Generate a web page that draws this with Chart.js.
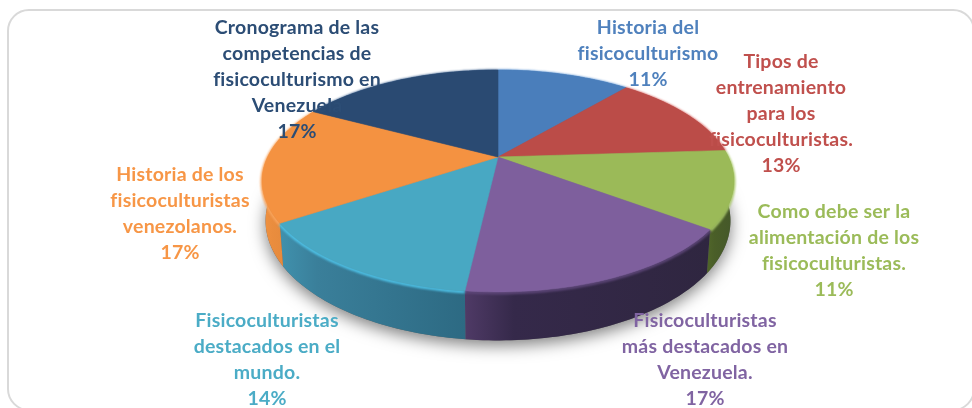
<!DOCTYPE html>
<html>
<head>
<meta charset="utf-8">
<title>Fisicoculturismo</title>
<script src="https://cdn.jsdelivr.net/npm/chart.js@4"></script>
<style>
  html, body { margin: 0; padding: 0; background: #fff; overflow: hidden; }
  #wrap { position: relative; width: 972px; height: 408px; }
  #frame {
    position: absolute; left: 7px; top: 9px; width: 968px; height: 402px;
    border: 2px solid #d9d9d9; border-radius: 22px; box-sizing: border-box;
  }
  canvas { position: absolute; left: 0; top: 0; }
</style>
</head>
<body>
<div id="wrap">
  <canvas id="pie" width="972" height="408"></canvas>
  <div id="frame"></div>
</div>
<script>
/* data */
const categories = [
  ['Historia del', 'fisicoculturismo'],
  ['Tipos de', 'entrenamiento', 'para los', 'fisicoculturistas.'],
  ['Como debe ser la', 'alimentación de los', 'fisicoculturistas.'],
  ['Fisicoculturistas', 'más destacados en', 'Venezuela.'],
  ['Fisicoculturistas', 'destacados en el', 'mundo.'],
  ['Historia de los', 'fisicoculturistas', 'venezolanos.'],
  ['Cronograma de las', 'competencias de', 'fisicoculturismo en', 'Venezuela'],
];
/* slice sizes; labels show them rounded */
const shares = [11.2, 12.8, 11.2, 16.6, 13.9, 17.1, 17.2];

/* colours */
const topColors  = ['#4a7ebb', '#bb4c48', '#9bba58', '#7e5f9d', '#48a8c3', '#f49241', '#2a4a72'];
const textColors = ['#4f81bd', '#c0504d', '#9bbb59', '#8064a2', '#4bacc6', '#f79646', '#2c4d75'];
/* wall gradient, left to right */
const wallColors = [
  ['#3b6490', '#3b6490', '#3b6490'], ['#8f3b38', '#8f3b38', '#8f3b38'], ['#4e6329', '#4a5e28', '#44572a'],
  ['#4f3a66', '#35294a', '#2f2640'], ['#4091ad', '#3a7f9a', '#2d6a83'], ['#f09242', '#ea8d3e', '#db8238'], ['#213a59', '#213a59', '#213a59'],
];
const rimColors = ['#5a92d2', '#d45b57', '#a9c968', '#5d4678', '#4fc3e8', '#f9a55e', '#3a5f8e'];

/* label centres, one per slice; first line y and line step */
const labelX = [648, 781, 834, 705, 267, 180, 297];
const labelY = [28, 62, 212, 321, 321, 175, 28];
const lineStep = 25.9;

/* tilted disc: perspective from the pie plane to the screen */
const view = { x: 498, y: 157, g: 230.4, h: 105.8, p: 0.216, depth: 38, shrink: 0.985 };

function project(theta, low) {
  const u = Math.sin(theta), v = Math.cos(theta);
  const w = 1 + view.p * v;
  const s = low ? view.shrink : 1;
  return {
    x: view.x + s * view.g * u / w,
    y: view.y - view.h * v / w + (low ? view.depth / w : 0),
  };
}

function arcPoints(a0, a1, low) {
  const n = Math.max(2, Math.ceil((a1 - a0) / 0.02));
  const pts = [];
  for (let i = 0; i <= n; i++) pts.push(project(a0 + (a1 - a0) * i / n, low));
  return pts;
}

function trace(ctx, pts) {
  pts.forEach((p, i) => (i ? ctx.lineTo(p.x, p.y) : ctx.moveTo(p.x, p.y)));
}

/* ── 3D PIE ─────────────────────────────────────────────── */
/* Takes the angles the pie controller worked out and draws them as a tilted disc */
const pie3d = {
  id: 'pie3d',
  beforeDatasetsDraw(chart) {
    const ctx = chart.ctx;
    const arcs = chart.getDatasetMeta(0).data.map(a => ({
      a0: a.startAngle + Math.PI / 2,
      a1: a.endAngle + Math.PI / 2,
    }));

    /* soft shadow under the disc */
    ctx.save();
    ctx.shadowColor = 'rgba(0,0,0,0.5)';
    ctx.shadowBlur = 16;
    ctx.shadowOffsetY = 5;
    ctx.fillStyle = '#666';
    ctx.beginPath();
    trace(ctx, arcPoints(0, Math.PI * 2, true));
    ctx.closePath();
    ctx.fill();
    ctx.restore();

    /* side walls */
    arcs.forEach((arc, i) => {
      const up = arcPoints(arc.a0, arc.a1, false);
      const down = arcPoints(arc.a0, arc.a1, true).reverse();
      const xs = up.map(p => p.x);
      const g = ctx.createLinearGradient(Math.min(...xs), 0, Math.max(...xs), 0);
      g.addColorStop(0, wallColors[i][0]);
      g.addColorStop(0.2, wallColors[i][1]);
      g.addColorStop(1, wallColors[i][2]);
      ctx.fillStyle = g;
      ctx.beginPath();
      trace(ctx, up.concat(down));
      ctx.closePath();
      ctx.fill();
    });

    /* rim highlight along the front edge */
    ctx.save();
    ctx.filter = 'blur(0.8px)';
    arcs.forEach((arc, i) => {
      ctx.strokeStyle = rimColors[i];
      ctx.lineWidth = 3;
      ctx.beginPath();
      trace(ctx, arcPoints(arc.a0, arc.a1, false).map(p => ({ x: p.x, y: p.y + 1 })));
      ctx.stroke();
    });
    ctx.restore();

    /* top faces */
    arcs.forEach((arc, i) => {
      ctx.fillStyle = topColors[i];
      ctx.strokeStyle = topColors[i];
      ctx.lineWidth = 0.6;
      ctx.beginPath();
      ctx.moveTo(view.x, view.y);
      arcPoints(arc.a0, arc.a1, false).forEach(p => ctx.lineTo(p.x, p.y));
      ctx.closePath();
      ctx.fill();
      ctx.stroke();
    });
    return false;
  },
  /* data labels sit on top of the pie, same as the original */
  afterDraw(chart) {
    const ctx = chart.ctx;
    ctx.save();
    ctx.font = 'bold 19.5px Lato, "Open Sans", sans-serif';
    ctx.letterSpacing = '0.2px';
    ctx.textAlign = 'center';
    ctx.textBaseline = 'middle';
    categories.forEach((lines, i) => {
      ctx.fillStyle = textColors[i];
      lines.concat(Math.round(shares[i]) + '%').forEach((line, k) => {
        ctx.fillText(line, labelX[i], labelY[i] + k * lineStep);
      });
    });
    ctx.restore();
  },
};

new Chart(document.getElementById('pie').getContext('2d'), {
  type: 'pie',
  data: {
    labels: categories.map(c => c.join(' ')),
    datasets: [{ data: shares, backgroundColor: topColors, borderWidth: 0 }],
  },
  options: {
    responsive: false,
    animation: false,
    plugins: { legend: { display: false }, tooltip: { enabled: false } },
  },
  plugins: [pie3d],
});
</script>
</body>
</html>
